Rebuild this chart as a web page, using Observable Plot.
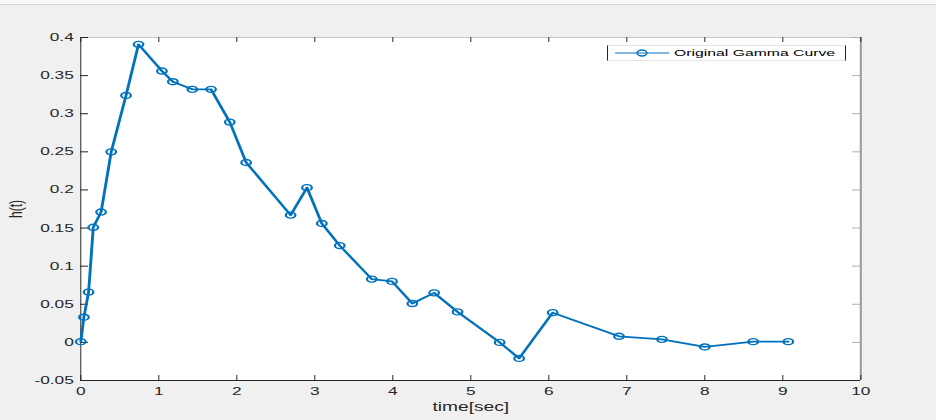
<!DOCTYPE html>
<html><head><meta charset="utf-8">
<script src="https://cdn.jsdelivr.net/npm/d3@7"></script>
<script src="https://cdn.jsdelivr.net/npm/@observablehq/plot@0.6"></script>
<style>
html,body{margin:0;padding:0;background:#f0f0f0;}
#wrap{position:relative;width:936px;height:420px;overflow:hidden;background:#f0f0f0;font-family:"Liberation Sans",Arial,Helvetica,sans-serif;}
#topstrip{position:absolute;left:0;top:0;width:936px;height:4px;background:#f9f9f9;border-bottom:1px solid #d6d6d6;z-index:2;}
#chart svg line{vector-effect:non-scaling-stroke;}
#legend{position:absolute;left:607px;top:45px;width:237px;height:14px;background:#fff;border-left:1px solid #262626;border-right:1px solid #262626;border-top:1px solid #e4e4e4;border-bottom:1px solid #e4e4e4;}
#legend svg{position:absolute;left:7px;top:0;}
#legend span{position:absolute;left:66px;top:0;line-height:14px;font-size:9.85px;color:#000;white-space:nowrap;transform:scaleX(1.6);transform-origin:0 50%;}
</style>
</head><body>
<div id="wrap">
  <div id="chart"></div>
  <div id="topstrip"></div>
  <div id="legend"></div>
</div>
<script>
// ---- data ----
const time = [0, 0.04, 0.10, 0.16, 0.26, 0.39, 0.58, 0.74, 1.04, 1.18, 1.43, 1.67, 1.91, 2.12, 2.69, 2.90, 3.09, 3.32, 3.73, 3.99, 4.25, 4.53, 4.83, 5.37, 5.62, 6.05, 6.90, 7.45, 8.00, 8.62, 9.07];
const hValues = [0.001, 0.033, 0.066, 0.151, 0.171, 0.250, 0.324, 0.391, 0.356, 0.342, 0.332, 0.332, 0.289, 0.236, 0.167, 0.203, 0.156, 0.127, 0.083, 0.080, 0.051, 0.065, 0.040, 0.000, -0.021, 0.039, 0.008, 0.004, -0.006, 0.001, 0.001];
const xTicks = [0, 1, 2, 3, 4, 5, 6, 7, 8, 9, 10];
const xTickLabels = ["0", "1", "2", "3", "4", "5", "6", "7", "8", "9", "10"];
const yTicks = [-0.05, 0, 0.05, 0.1, 0.15, 0.2, 0.25, 0.3, 0.35, 0.4];
const yTickLabels = ["-0.05", "0", "0.05", "0.1", "0.15", "0.2", "0.25", "0.3", "0.35", "0.4"];
const xDomain = [0, 10];
const yDomain = [-0.05, 0.4];
const xLabel = "time[sec]";
const yLabel = "h(t)";
const legendLabel = "Original Gamma Curve";

// ---- layout ----
const S = 1.6;               // horizontal stretch of the reference
const W = 936 / S, H = 420;
const mL = 80 / S, mR = 76 / S, mT = 37, mB = 40;
const FW = W - mL - mR, FH = H - mT - mB;
const tickLen = 5;
const blue = "#0072BD";
const font = '"Liberation Sans", Arial, Helvetica, sans-serif';

const data = time.map((t, i) => ({t, h: hValues[i]}));
const xLab = new Map(xTicks.map((d, i) => [d, xTickLabels[i]]));
const yLab = new Map(yTicks.map((d, i) => [d, yTickLabels[i]]));

const plot = Plot.plot({
  width: W, height: H,
  marginLeft: mL, marginRight: mR, marginTop: mT, marginBottom: mB,
  style: {background: "#f0f0f0", fontFamily: font, fontSize: "10.8px", color: "#262626", overflow: "visible"},
  x: {domain: xDomain},
  y: {domain: yDomain},
  marks: [
    Plot.frame({fill: "white", stroke: null}),
    Plot.ruleX([xDomain[1]], {stroke: "#9a9a9a", strokeWidth: 2}),
    Plot.ruleY([yDomain[1]], {stroke: "#c4c4c4"}),
    Plot.tickX(xTicks, {x: d => d, insetTop: FH - tickLen, stroke: "#262626"}),
    Plot.tickX(xTicks, {x: d => d, insetBottom: FH - tickLen, stroke: "#262626"}),
    Plot.tickY(yTicks, {y: d => d, insetRight: FW - tickLen, stroke: "#262626"}),
    Plot.tickY(yTicks, {y: d => d, insetLeft: FW - tickLen, stroke: "#b0b0b0"}),
    Plot.ruleX([xDomain[0]], {stroke: "#262626"}),
    Plot.ruleY([yDomain[0]], {stroke: "#262626"}),
    Plot.axisX({ticks: xTicks, tickFormat: d => xLab.get(d), tickSize: 0, tickPadding: 7, label: null, fill: "#262626"}),
    Plot.axisX({ticks: [], label: xLabel, labelAnchor: "center", labelOffset: 30, labelArrow: "none", fontSize: 12, fill: "#262626"}),
    Plot.axisY({ticks: yTicks, tickFormat: d => yLab.get(d), tickSize: 0, tickPadding: 4.4, label: null, fill: "#262626"}),
    Plot.axisY({ticks: [], label: yLabel, labelAnchor: "center", labelOffset: 45, labelArrow: "none", fontSize: 12, fill: "#262626"}),
    Plot.line(data, {x: "t", y: "h", stroke: blue, strokeWidth: 1.8}),
    Plot.dot(data, {x: "t", y: "h", r: 3, stroke: blue, strokeWidth: 1.4, fill: "none"})
  ]
});
plot.setAttribute("width", 936);
plot.setAttribute("height", 420);
plot.setAttribute("preserveAspectRatio", "none");
plot.style.width = "936px";
plot.style.height = "420px";
plot.style.maxWidth = "none";
plot.style.display = "block";
document.getElementById("chart").appendChild(plot);

// ---- legend ----
const leg = document.getElementById("legend");
const ns = "http://www.w3.org/2000/svg";
const ls = document.createElementNS(ns, "svg");
ls.setAttribute("width", 54); ls.setAttribute("height", 14);
const ln = document.createElementNS(ns, "line");
ln.setAttribute("x1", 0); ln.setAttribute("x2", 54); ln.setAttribute("y1", 7); ln.setAttribute("y2", 7);
ln.setAttribute("stroke", blue); ln.setAttribute("stroke-width", 1.2);
const el = document.createElementNS(ns, "ellipse");
el.setAttribute("cx", 27); el.setAttribute("cy", 7); el.setAttribute("rx", 4.8); el.setAttribute("ry", 3);
el.setAttribute("fill", "none"); el.setAttribute("stroke", blue); el.setAttribute("stroke-width", 1.6);
ls.appendChild(ln); ls.appendChild(el);
leg.appendChild(ls);
const sp = document.createElement("span");
sp.textContent = legendLabel;
leg.appendChild(sp);
</script>
</body></html>
